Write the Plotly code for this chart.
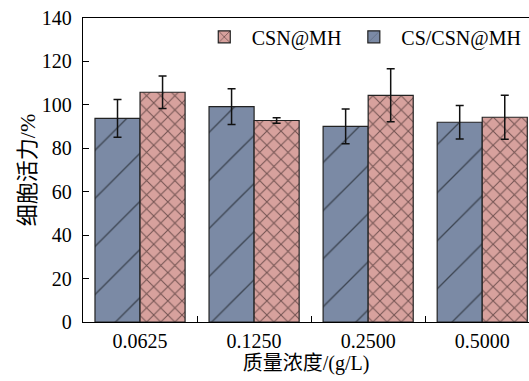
import plotly.graph_objects as go

categories = ["0.0625", "0.1250", "0.2500", "0.5000"]
cs_csn_mh = [93.8, 99.2, 90.1, 92.0]
cs_csn_mh_err = [8.7, 8.2, 8.0, 7.7]
csn_mh = [105.8, 92.8, 104.4, 94.3]
csn_mh_err = [7.5, 1.3, 12.2, 10.1]
y_ticks = [0, 20, 40, 60, 80, 100, 120, 140]

serif = "Liberation Serif, Times New Roman, serif"
cjk = "Liberation Serif, Noto Sans CJK SC, serif"

fig = go.Figure()
fig.add_trace(go.Bar(
    x=categories, y=cs_csn_mh, name="CS/CSN@MH",
    marker=dict(color="#7b8aa5", line=dict(color="#222222", width=1.2),
                pattern=dict(shape="/", fgcolor="#000000", size=34, solidity=0.04)),
    error_y=dict(type="data", array=cs_csn_mh_err, color="#111111", thickness=1.5, width=4),
))
fig.add_trace(go.Bar(
    x=categories, y=csn_mh, name="CSN@MH",
    marker=dict(color="#d7a19d", line=dict(color="#222222", width=1.2),
                pattern=dict(shape="x", fgcolor="#120808", size=10, solidity=0.2)),
    error_y=dict(type="data", array=csn_mh_err, color="#111111", thickness=1.5, width=4),
))

fig.update_layout(
    width=529, height=381,
    margin=dict(l=83, r=0, t=18, b=59),
    paper_bgcolor="white", plot_bgcolor="white",
    barmode="group", bargap=0.21, bargroupgap=0,
    font=dict(family=serif, size=20, color="black"),
    showlegend=True,
    legend=dict(orientation="h", x=0.995, xanchor="right", y=0.938, yanchor="middle",
                traceorder="reversed", bgcolor="rgba(0,0,0,0)",
                font=dict(family=serif, size=20, color="black"),
                itemwidth=45),
    xaxis=dict(
        type="category", range=[-0.5, 3.41],
        showline=True, linecolor="black", linewidth=1.3, mirror=True,
        ticks="inside", tickson="boundaries", ticklen=6, tickcolor="black",
        showgrid=False, ticklabelstandoff=1, tickfont=dict(size=20),
        title=dict(text="质量浓度/(g/L)", font=dict(family=cjk, size=20), standoff=4),
    ),
    yaxis=dict(
        range=[0, 140], tickvals=y_ticks,
        showline=True, linecolor="black", linewidth=1.3,
        ticks="inside", ticklen=6, tickcolor="black",
        showgrid=False, zeroline=False, ticklabelstandoff=6, tickfont=dict(size=20),
        title=dict(text="细胞活力/%", font=dict(family=cjk, size=22), standoff=0),
    ),
)

fig.write_html("out.html")
